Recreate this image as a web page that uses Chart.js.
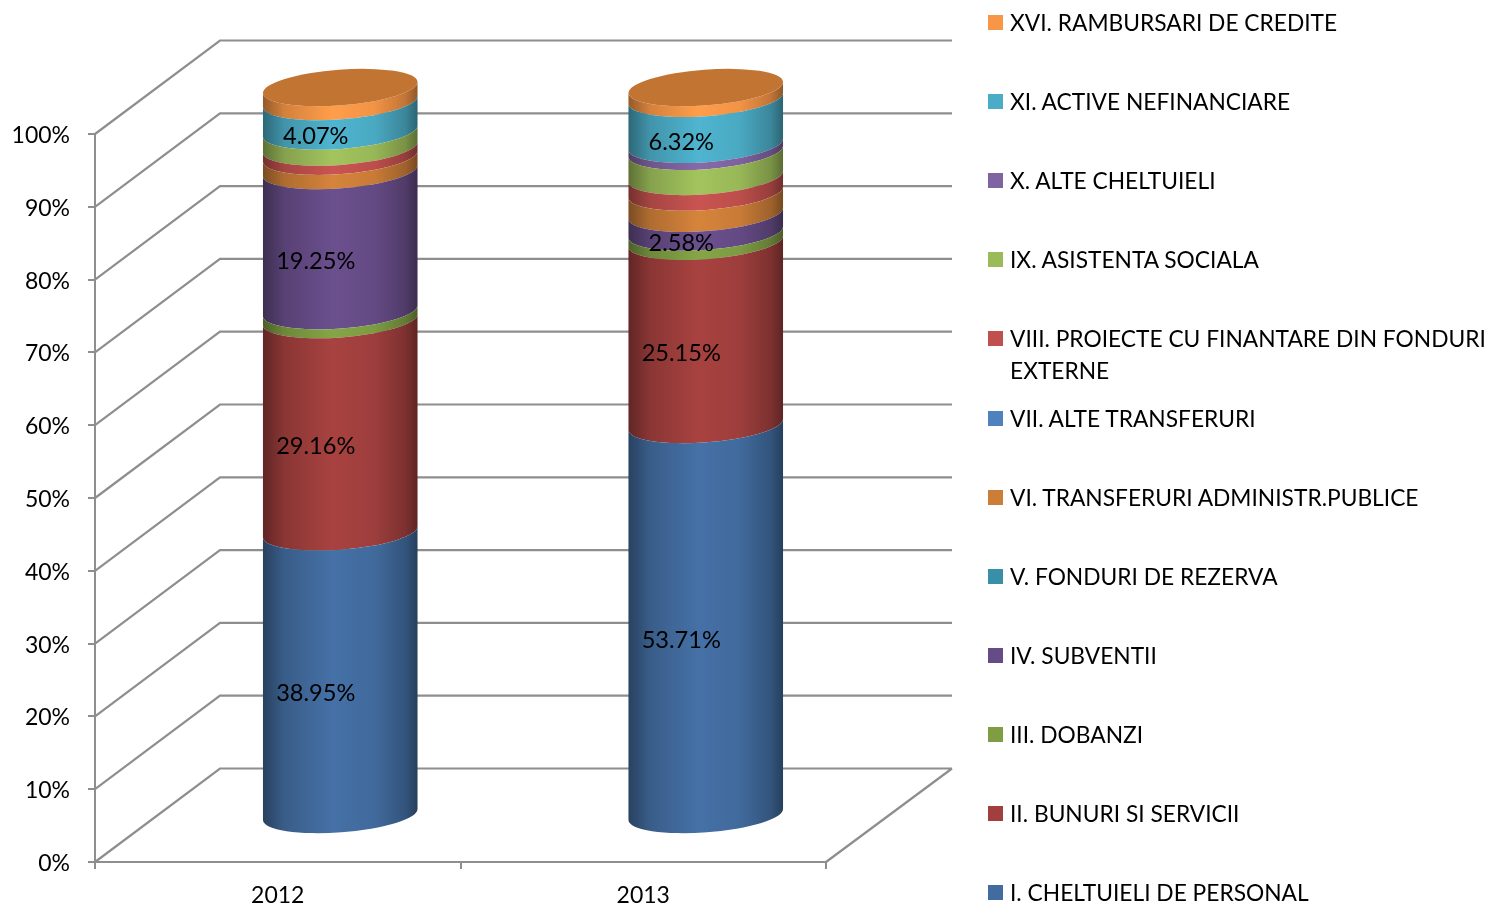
<!DOCTYPE html>
<html>
<head>
<meta charset="utf-8">
<title>Cheltuieli 2012-2013</title>
<script src="https://cdn.jsdelivr.net/npm/chart.js@4/dist/chart.umd.js"></script>
<style>
    body { margin: 0; background: #fff; font-family: Lato, sans-serif; color: #000; }
    #wrap { position: relative; width: 1489px; height: 907px; overflow: hidden; }
    #legend div { position: absolute; left: 1010px; width: 478px; font-size: 22.75px; line-height: 32px; }
    #legend span { position: absolute; left: -22px; top: 8px; width: 15px; height: 15px; }
</style>
</head>
<body>
<div id="wrap">
    <canvas id="chart" width="1489" height="907"></canvas>
    <div id="legend"></div>
</div>
<script>
const categories = ["2012", "2013"];
const seriesNames = [
    "I. CHELTUIELI DE PERSONAL",
    "II. BUNURI SI SERVICII",
    "III. DOBANZI",
    "IV. SUBVENTII",
    "V. FONDURI DE REZERVA",
    "VI. TRANSFERURI ADMINISTR.PUBLICE",
    "VII. ALTE TRANSFERURI",
    "VIII. PROIECTE CU FINANTARE DIN FONDURI EXTERNE",
    "IX. ASISTENTA SOCIALA",
    "X. ALTE CHELTUIELI",
    "XI. ACTIVE NEFINANCIARE",
    "XVI. RAMBURSARI DE CREDITE"
];
const values2012 = [38.95, 29.16, 1.23, 19.25, 0, 1.97, 0, 1.24, 2.2, 0, 4.07, 1.93];
const values2013 = [53.71, 25.15, 1.28, 2.58, 0, 2.9, 0, 2.16, 3.44, 0.96, 6.32, 1.5];
const labelledSeries = [0, 1, 3, 10];
const yTicks = [0, 10, 20, 30, 40, 50, 60, 70, 80, 90, 100];

const seriesColors = ["#426C9F", "#A03F3D", "#7F9E43", "#664C87", "#3A8FA8", "#CC7E38",
                      "#4F81BD", "#C0504D", "#9BBB59", "#8064A2", "#4BACC6", "#F79646"];

const gridColor = "#8E8E8E";
const fontName = "Lato, sans-serif";
const tickFontSize = 23;
const valueFontSize = 23.6;

// walls go this far back, the cylinders stand half way
const wallDepth = { x: 125, y: -93.5 };
const cylinderShift = { x: 62.5, y: -46.5 };
const labelShift = { x: 38, y: -26 };
const wallRight = 952;
const capHeight = 17.8;
const capTilt = -4.3 * Math.PI / 180;

function shade(hex, k) {
    let r = Math.min(255, parseInt(hex.slice(1, 3), 16) * k);
    let g = Math.min(255, parseInt(hex.slice(3, 5), 16) * k);
    let b = Math.min(255, parseInt(hex.slice(5, 7), 16) * k);
    return "rgb(" + Math.round(r) + "," + Math.round(g) + "," + Math.round(b) + ")";
}

function cylinderGradient(ctx, x, rx, color) {
    let g = ctx.createLinearGradient(x - rx, 0, x + rx, 0);
    g.addColorStop(0, shade(color, 0.6));
    g.addColorStop(0.14, shade(color, 0.86));
    g.addColorStop(0.45, shade(color, 1.05));
    g.addColorStop(0.72, shade(color, 0.98));
    g.addColorStop(0.92, shade(color, 0.78));
    g.addColorStop(1, shade(color, 0.58));
    return g;
}

// bar element drawn as one band of a cylinder
class CylinderSegment extends Chart.BarElement {
    draw(ctx) {
        const p = this.getProps(["x", "y", "base", "width"], true);
        if (Math.abs(p.base - p.y) < 0.01) {
            return;
        }
        const rx = p.width / 2;
        ctx.save();
        ctx.translate(cylinderShift.x, cylinderShift.y);
        ctx.fillStyle = cylinderGradient(ctx, p.x, rx, this.options.backgroundColor);
        ctx.beginPath();
        ctx.ellipse(p.x, p.y, rx, capHeight, capTilt, 0, Math.PI);
        ctx.ellipse(p.x, p.base, rx, capHeight, capTilt, Math.PI, 0, true);
        ctx.closePath();
        ctx.fill();
        ctx.restore();
    }
}
CylinderSegment.id = "cylinderSegment";
CylinderSegment.defaults = Chart.BarElement.defaults;
CylinderSegment.defaultRoutes = Chart.BarElement.defaultRoutes;

class CylinderController extends Chart.BarController {}
CylinderController.id = "cylinder";
CylinderController.defaults = Object.assign({}, Chart.BarController.defaults, { dataElementType: "cylinderSegment" });
CylinderController.overrides = Chart.BarController.overrides;

Chart.register(CylinderSegment, CylinderController);

const wallsPlugin = {
    id: "walls",
    beforeDatasetsDraw(chart) {
        const ctx = chart.ctx;
        const y = chart.scales.y;
        const area = chart.chartArea;
        ctx.save();
        ctx.strokeStyle = gridColor;
        ctx.lineWidth = 2.2;
        ctx.beginPath();
        y.ticks.forEach((t) => {
            let py = y.getPixelForValue(t.value);
            ctx.moveTo(area.left, py);
            ctx.lineTo(area.left + wallDepth.x, py + wallDepth.y);
            ctx.lineTo(wallRight, py + wallDepth.y);
        });
        // right edge of the floor
        ctx.moveTo(area.right, area.bottom);
        ctx.lineTo(wallRight, area.bottom + wallDepth.y);
        ctx.stroke();
        ctx.restore();
    },
    afterDatasetsDraw(chart) {
        const ctx = chart.ctx;
        const last = chart.getDatasetMeta(seriesNames.length - 1);

        // lid on top of each cylinder
        ctx.save();
        ctx.translate(cylinderShift.x, cylinderShift.y);
        last.data.forEach((el) => {
            ctx.fillStyle = "#C27532";
            ctx.beginPath();
            ctx.ellipse(el.x, el.y, el.width / 2, capHeight, capTilt, 0, Math.PI * 2);
            ctx.fill();
        });
        ctx.restore();

        // value labels
        ctx.save();
        ctx.font = valueFontSize + "px " + fontName;
        ctx.fillStyle = "#000";
        ctx.textAlign = "center";
        ctx.textBaseline = "middle";
        labelledSeries.forEach((s) => {
            chart.getDatasetMeta(s).data.forEach((el, i) => {
                let v = chart.data.datasets[s].data[i];
                ctx.fillText(v.toFixed(2) + "%", el.x + labelShift.x, (el.y + el.base) / 2 + labelShift.y);
            });
        });
        ctx.restore();
    }
};

const datasets = seriesNames.map((name, i) => ({
    label: name,
    data: [values2012[i], values2013[i]],
    backgroundColor: seriesColors[i],
    barThickness: 155,
    clip: false
}));

new Chart(document.querySelector("#chart"), {
    type: "cylinder",
    data: { labels: categories, datasets: datasets },
    options: {
        responsive: false,
        animation: false,
        layout: { padding: { top: 134, right: 663, bottom: 0, left: 0 } },
        plugins: { legend: { display: false }, tooltip: { enabled: false } },
        scales: {
            x: {
                stacked: true,
                afterFit(scale) { scale.height = 45; },
                border: { color: gridColor, width: 2 },
                grid: { offset: true, drawOnChartArea: false, color: gridColor, tickLength: 7, lineWidth: 2 },
                ticks: { color: "#000", padding: 13, maxRotation: 0, font: { family: fontName, size: tickFontSize } }
            },
            y: {
                stacked: true,
                min: 0,
                max: 100,
                afterFit(scale) { scale.width = 95; },
                afterBuildTicks(scale) { scale.ticks = yTicks.map((v) => ({ value: v })); },
                border: { color: gridColor, width: 2 },
                grid: { drawOnChartArea: false, color: gridColor, tickLength: 7, lineWidth: 2 },
                ticks: {
                    color: "#000",
                    padding: 18,
                    labelOffset: 1.5,
                    font: { family: fontName, size: tickFontSize },
                    callback: (v) => v + "%"
                }
            }
        }
    },
    plugins: [wallsPlugin]
});

// legend, top row is the last series
const legendBox = document.querySelector("#legend");
seriesNames.slice().reverse().forEach((name, i) => {
    let row = document.createElement("div");
    row.style.top = (7 + i * 79.1) + "px";
    let mark = document.createElement("span");
    mark.style.background = seriesColors[seriesNames.length - 1 - i];
    row.appendChild(mark);
    row.appendChild(document.createTextNode(name));
    legendBox.appendChild(row);
});
</script>
</body>
</html>
